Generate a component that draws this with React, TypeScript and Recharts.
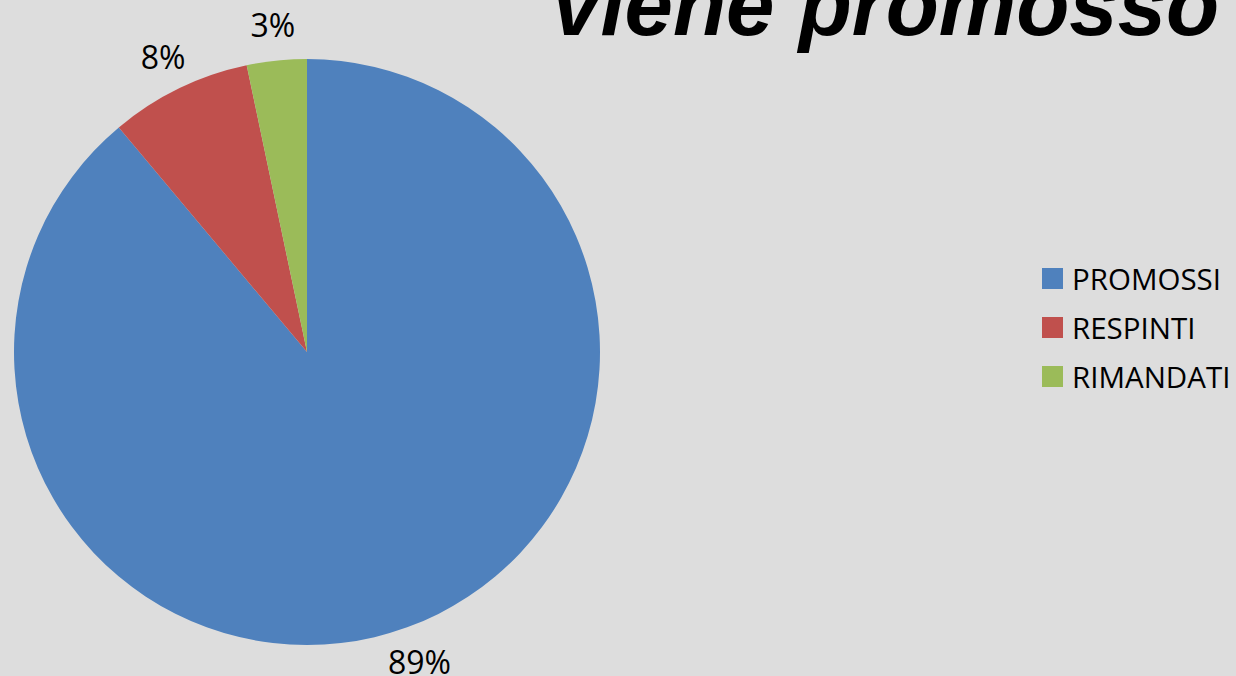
import { PieChart, Pie, Cell, Legend } from "recharts"

const categories = ["PROMOSSI", "RESPINTI", "RIMANDATI"]
const values = [88.9, 7.8, 3.3]
const colors = ["#4f81bd", "#c0504d", "#9bbb59"]

const data = categories.map((name, i) => ({ name, value: values[i] }))
const total = values.reduce((a, b) => a + b, 0)

const RADIAN = Math.PI / 180

function renderLabel(props: any) {
  const { cx, cy, midAngle, outerRadius, value } = props
  const r = outerRadius + 36
  const x = cx + r * Math.cos(-midAngle * RADIAN)
  const y = cy + r * Math.sin(-midAngle * RADIAN)
  return (
    <text
      x={x}
      y={y}
      textAnchor="middle"
      dominantBaseline="central"
      fill="#000"
      fontSize={32}
      fontFamily="'Open Sans', sans-serif"
    >
      {`${Math.round((value / total) * 100)}%`}
    </text>
  )
}

function renderLegend(props: any) {
  const { payload } = props
  return (
    <div style={{ fontFamily: "'Open Sans', sans-serif", fontSize: 29.5, color: "#000" }}>
      {payload.map((entry: any) => (
        <div key={entry.value} style={{ display: "flex", alignItems: "center", height: 49 }}>
          <span style={{ width: 21, height: 21, background: entry.color, marginRight: 9, display: "inline-block" }} />
          <span>{entry.value}</span>
        </div>
      ))}
    </div>
  )
}

export default function App() {
  return (
    <div style={{ position: "absolute", left: 0, top: 0, width: 1236, height: 676, background: "#dddddd", overflow: "hidden" }}>
      <div
        style={{
          position: "absolute",
          left: 552,
          top: -45,
          fontFamily: "'Liberation Sans', Arial, sans-serif",
          fontWeight: "bold",
          fontStyle: "italic",
          fontSize: 87,
          lineHeight: "100px",
          whiteSpace: "nowrap",
          color: "#000",
        }}
      >
        viene promosso
      </div>
      <PieChart width={1236} height={676}>
        <Pie
          data={data}
          dataKey="value"
          nameKey="name"
          cx={302}
          cy={347}
          outerRadius={293}
          startAngle={90}
          endAngle={-270}
          stroke="none"
          label={renderLabel}
          labelLine={false}
          isAnimationActive={false}
        >
          {data.map((d, i) => (
            <Cell key={d.name} fill={colors[i]} />
          ))}
        </Pie>
        <Legend
          layout="vertical"
          align="right"
          verticalAlign="top"
          content={renderLegend}
          wrapperStyle={{ position: "absolute", left: 1042, top: 254, width: 194 }}
        />
      </PieChart>
    </div>
  )
}
